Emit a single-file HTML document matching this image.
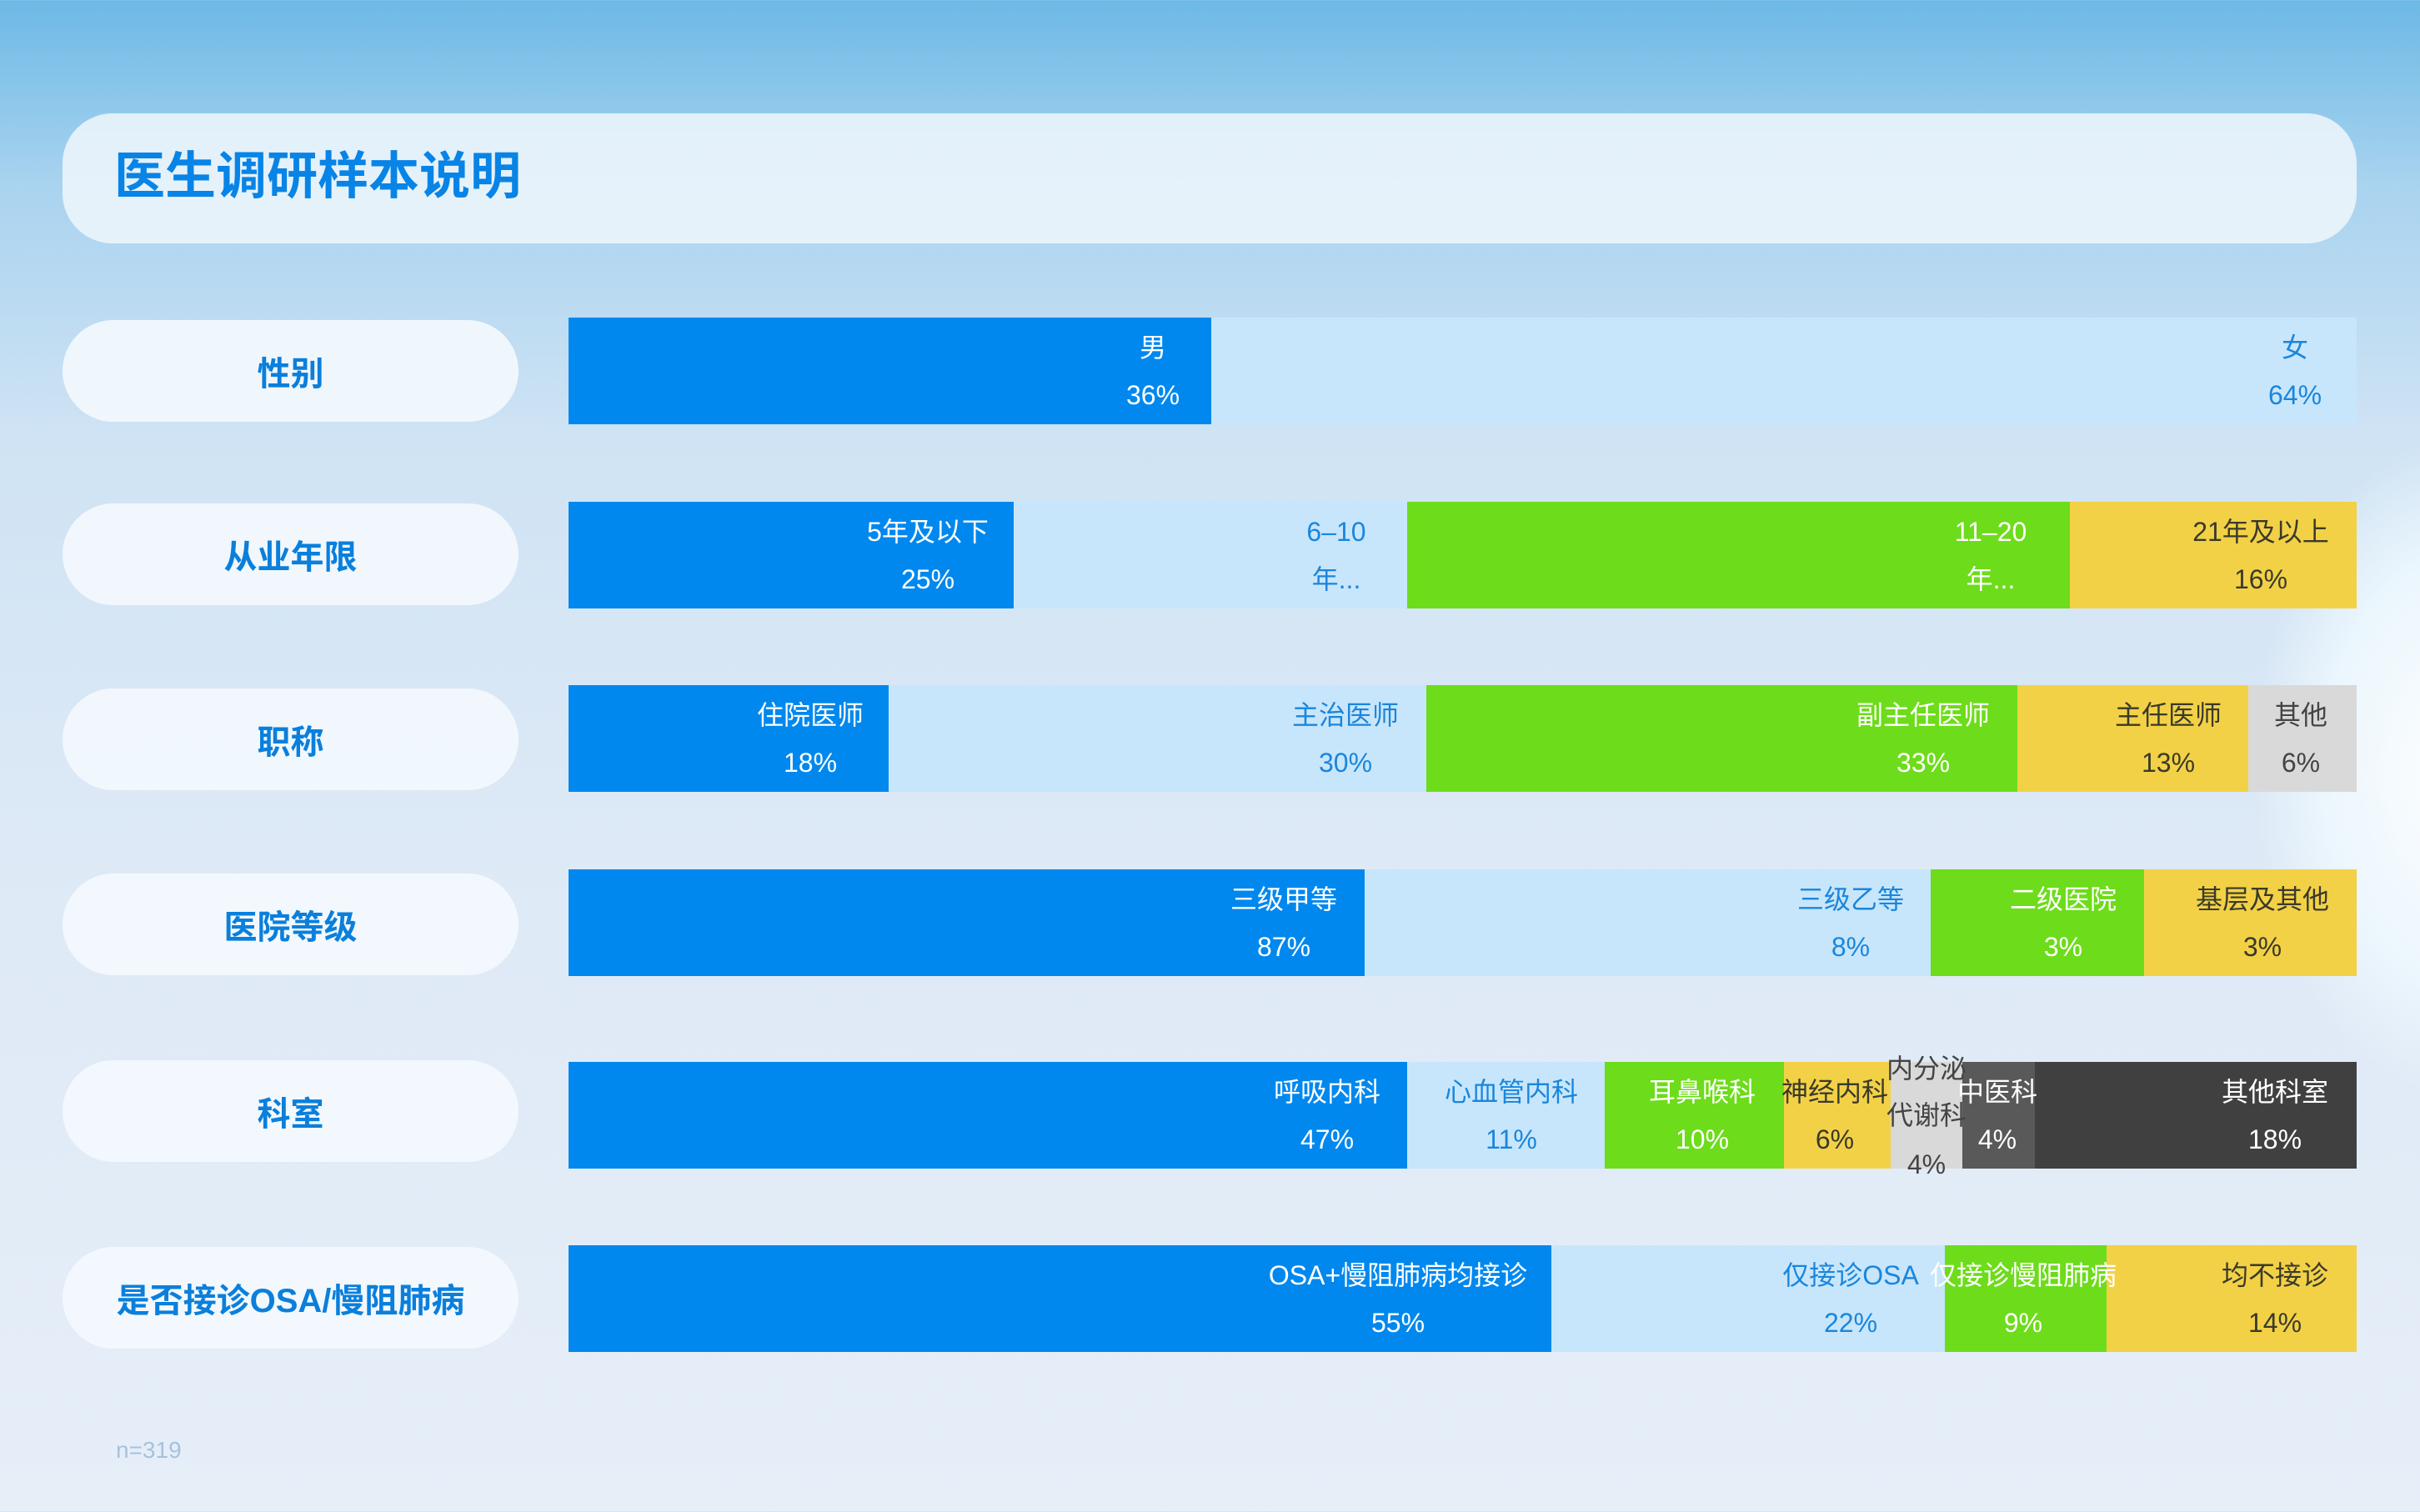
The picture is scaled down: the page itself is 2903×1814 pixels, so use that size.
<!DOCTYPE html>
<html><head><meta charset="utf-8"><style>
*{margin:0;padding:0;box-sizing:border-box}
body{width:2903px;height:1814px;overflow:hidden;position:relative;font-family:"Liberation Sans","Noto Sans CJK SC",sans-serif;
background:linear-gradient(180deg,#6cb9e6 0px,#a9d3ef 220px,#cfe3f4 520px,#dde9f6 1000px,#e6eef8 1814px);}
.cloud{position:absolute;left:2700px;top:520px;width:500px;height:800px;border-radius:50%;background:radial-gradient(ellipse at center,rgba(255,255,255,.95) 0%,rgba(240,250,255,.8) 45%,rgba(230,245,255,0) 70%)}
.title{position:absolute;left:75px;top:136px;width:2752px;height:156px;border-radius:60px;background:rgba(240,247,252,.85)}
.title span{position:absolute;left:62px;top:25px;font-size:61px;font-weight:bold;color:#0884e6;letter-spacing:0px;font-family:"Noto Sans CJK SC",sans-serif}
.pill{position:absolute;left:75px;width:547px;height:122px;border-radius:61px;background:rgba(243,249,253,.92);color:#0a7fdc;font-weight:bold;font-size:40px;display:flex;align-items:center;justify-content:center;font-family:"Liberation Sans","Noto Sans CJK SC",sans-serif}
.seg{position:absolute;height:128px}
.t{position:absolute;font-size:32px;white-space:nowrap;transform:translate(-50%,-50%);line-height:1}
.w{color:#fff}.b{color:#1a86dc}.d{color:#3a3a2a}.g{color:#444}
.n{position:absolute;left:139px;top:1724px;font-size:28px;color:#a6c2de}
</style></head><body>
<div class="cloud"></div>
<div class="title"><span>医生调研样本说明</span></div>

<div class="pill" style="top:384px">性别</div>
<div class="pill" style="top:604px">从业年限</div>
<div class="pill" style="top:826px">职称</div>
<div class="pill" style="top:1048px">医院等级</div>
<div class="pill" style="top:1272px">科室</div>
<div class="pill" style="top:1496px">是否接诊OSA/慢阻肺病</div>

<!-- row1 -->
<div class="seg" style="top:381px;left:682px;width:771px;background:#0088ee"></div>
<div class="seg" style="top:381px;left:1453px;width:1374px;background:#c8e6fb"></div>
<div class="t w" style="left:1383px;top:417px">男</div><div class="t w" style="left:1383px;top:474px">36%</div>
<div class="t b" style="left:2753px;top:417px">女</div><div class="t b" style="left:2753px;top:474px">64%</div>

<!-- row2 -->
<div class="seg" style="top:602px;left:682px;width:534px;background:#0088ee"></div>
<div class="seg" style="top:602px;left:1216px;width:472px;background:#c8e6fb"></div>
<div class="seg" style="top:602px;left:1688px;width:795px;background:#6ddc1a"></div>
<div class="seg" style="top:602px;left:2483px;width:344px;background:#f3d146"></div>
<div class="t w" style="left:1113px;top:638px">5年及以下</div><div class="t w" style="left:1113px;top:695px">25%</div>
<div class="t b" style="left:1603px;top:638px">6–10</div><div class="t b" style="left:1603px;top:695px">年...</div>
<div class="t w" style="left:2388px;top:638px">11–20</div><div class="t w" style="left:2388px;top:695px">年...</div>
<div class="t d" style="left:2712px;top:638px">21年及以上</div><div class="t d" style="left:2712px;top:695px">16%</div>

<!-- row3 -->
<div class="seg" style="top:822px;left:682px;width:384px;background:#0088ee"></div>
<div class="seg" style="top:822px;left:1066px;width:645px;background:#c8e6fb"></div>
<div class="seg" style="top:822px;left:1711px;width:709px;background:#6ddc1a"></div>
<div class="seg" style="top:822px;left:2420px;width:277px;background:#f3d146"></div>
<div class="seg" style="top:822px;left:2697px;width:130px;background:#d9d9d9"></div>
<div class="t w" style="left:972px;top:858px">住院医师</div><div class="t w" style="left:972px;top:915px">18%</div>
<div class="t b" style="left:1614px;top:858px">主治医师</div><div class="t b" style="left:1614px;top:915px">30%</div>
<div class="t w" style="left:2307px;top:858px">副主任医师</div><div class="t w" style="left:2307px;top:915px">33%</div>
<div class="t d" style="left:2601px;top:858px">主任医师</div><div class="t d" style="left:2601px;top:915px">13%</div>
<div class="t g" style="left:2760px;top:858px">其他</div><div class="t g" style="left:2760px;top:915px">6%</div>

<!-- row4 -->
<div class="seg" style="top:1043px;left:682px;width:955px;background:#0088ee"></div>
<div class="seg" style="top:1043px;left:1637px;width:679px;background:#c8e6fb"></div>
<div class="seg" style="top:1043px;left:2316px;width:256px;background:#6ddc1a"></div>
<div class="seg" style="top:1043px;left:2572px;width:255px;background:#f3d146"></div>
<div class="t w" style="left:1540px;top:1079px">三级甲等</div><div class="t w" style="left:1540px;top:1136px">87%</div>
<div class="t b" style="left:2220px;top:1079px">三级乙等</div><div class="t b" style="left:2220px;top:1136px">8%</div>
<div class="t w" style="left:2475px;top:1079px">二级医院</div><div class="t w" style="left:2475px;top:1136px">3%</div>
<div class="t d" style="left:2714px;top:1079px">基层及其他</div><div class="t d" style="left:2714px;top:1136px">3%</div>

<!-- row5 -->
<div class="seg" style="top:1274px;left:682px;width:1006px;background:#0088ee"></div>
<div class="seg" style="top:1274px;left:1688px;width:237px;background:#c8e6fb"></div>
<div class="seg" style="top:1274px;left:1925px;width:215px;background:#6ddc1a"></div>
<div class="seg" style="top:1274px;left:2140px;width:128px;background:#f3d146"></div>
<div class="seg" style="top:1274px;left:2268px;width:86px;background:#d9d9d9"></div>
<div class="seg" style="top:1274px;left:2354px;width:87px;background:#595959"></div>
<div class="seg" style="top:1274px;left:2441px;width:386px;background:#404040"></div>
<div class="t w" style="left:1592px;top:1310px">呼吸内科</div><div class="t w" style="left:1592px;top:1367px">47%</div>
<div class="t b" style="left:1813px;top:1310px">心血管内科</div><div class="t b" style="left:1813px;top:1367px">11%</div>
<div class="t w" style="left:2042px;top:1310px">耳鼻喉科</div><div class="t w" style="left:2042px;top:1367px">10%</div>
<div class="t d" style="left:2201px;top:1310px">神经内科</div><div class="t d" style="left:2201px;top:1367px">6%</div>
<div class="t g" style="left:2311px;top:1282px">内分泌</div><div class="t g" style="left:2311px;top:1338px">代谢科</div><div class="t g" style="left:2311px;top:1397px">4%</div>
<div class="t w" style="left:2396px;top:1310px">中医科</div><div class="t w" style="left:2396px;top:1367px">4%</div>
<div class="t w" style="left:2729px;top:1310px">其他科室</div><div class="t w" style="left:2729px;top:1367px">18%</div>

<!-- row6 -->
<div class="seg" style="top:1494px;left:682px;width:1179px;background:#0088ee"></div>
<div class="seg" style="top:1494px;left:1861px;width:472px;background:#c8e6fb"></div>
<div class="seg" style="top:1494px;left:2333px;width:194px;background:#6ddc1a"></div>
<div class="seg" style="top:1494px;left:2527px;width:300px;background:#f3d146"></div>
<div class="t w" style="left:1677px;top:1530px">OSA+慢阻肺病均接诊</div><div class="t w" style="left:1677px;top:1587px">55%</div>
<div class="t b" style="left:2220px;top:1530px">仅接诊OSA</div><div class="t b" style="left:2220px;top:1587px">22%</div>
<div class="t w" style="left:2427px;top:1530px">仅接诊慢阻肺病</div><div class="t w" style="left:2427px;top:1587px">9%</div>
<div class="t d" style="left:2729px;top:1530px">均不接诊</div><div class="t d" style="left:2729px;top:1587px">14%</div>

<div class="n">n=319</div>
</body></html>
